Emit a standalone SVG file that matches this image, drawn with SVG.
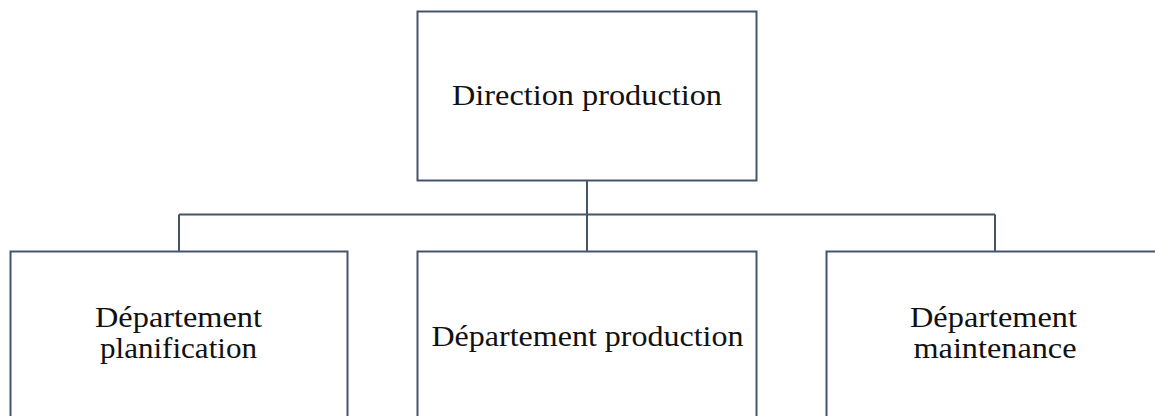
<svg xmlns="http://www.w3.org/2000/svg" width="1155" height="416" viewBox="0 0 1155 416">
  <style>
    .box { fill: #ffffff; stroke: #44546a; stroke-width: 2; }
    .link { fill: none; stroke: #44546a; stroke-width: 2; }
    .label { font-family: "Liberation Serif", "Times New Roman", serif; font-size: 30px; fill: #111111; text-anchor: middle; }
  </style>
  <rect width="1155" height="416" fill="#ffffff"/>

  <!-- connectors -->
  <g id="connectors">
    <path class="link" d="M587 180 V251"/>
    <path class="link" d="M179 214.5 H995"/>
    <path class="link" d="M179 214.5 V251"/>
    <path class="link" d="M995 214.5 V251"/>
  </g>

  <g id="direction-production">
    <rect class="box" x="417.5" y="11.5" width="339" height="169"/>
    <text class="label" x="587" y="105" textLength="270" lengthAdjust="spacingAndGlyphs">Direction production</text>
  </g>

  <g id="departement-planification">
    <rect class="box" x="10.5" y="251.5" width="337" height="180"/>
    <text class="label" x="178.5" y="327" textLength="167" lengthAdjust="spacingAndGlyphs">Département</text>
    <text class="label" x="178.5" y="358" textLength="157" lengthAdjust="spacingAndGlyphs">planification</text>
  </g>

  <g id="departement-production">
    <rect class="box" x="417.5" y="251.5" width="339" height="180"/>
    <text class="label" x="587.5" y="346" textLength="312" lengthAdjust="spacingAndGlyphs">Département production</text>
  </g>

  <g id="departement-maintenance">
    <rect class="box" x="826.5" y="251.5" width="338" height="180"/>
    <text class="label" x="993.5" y="327" textLength="167" lengthAdjust="spacingAndGlyphs">Département</text>
    <text class="label" x="995" y="358" textLength="163" lengthAdjust="spacingAndGlyphs">maintenance</text>
  </g>
</svg>
